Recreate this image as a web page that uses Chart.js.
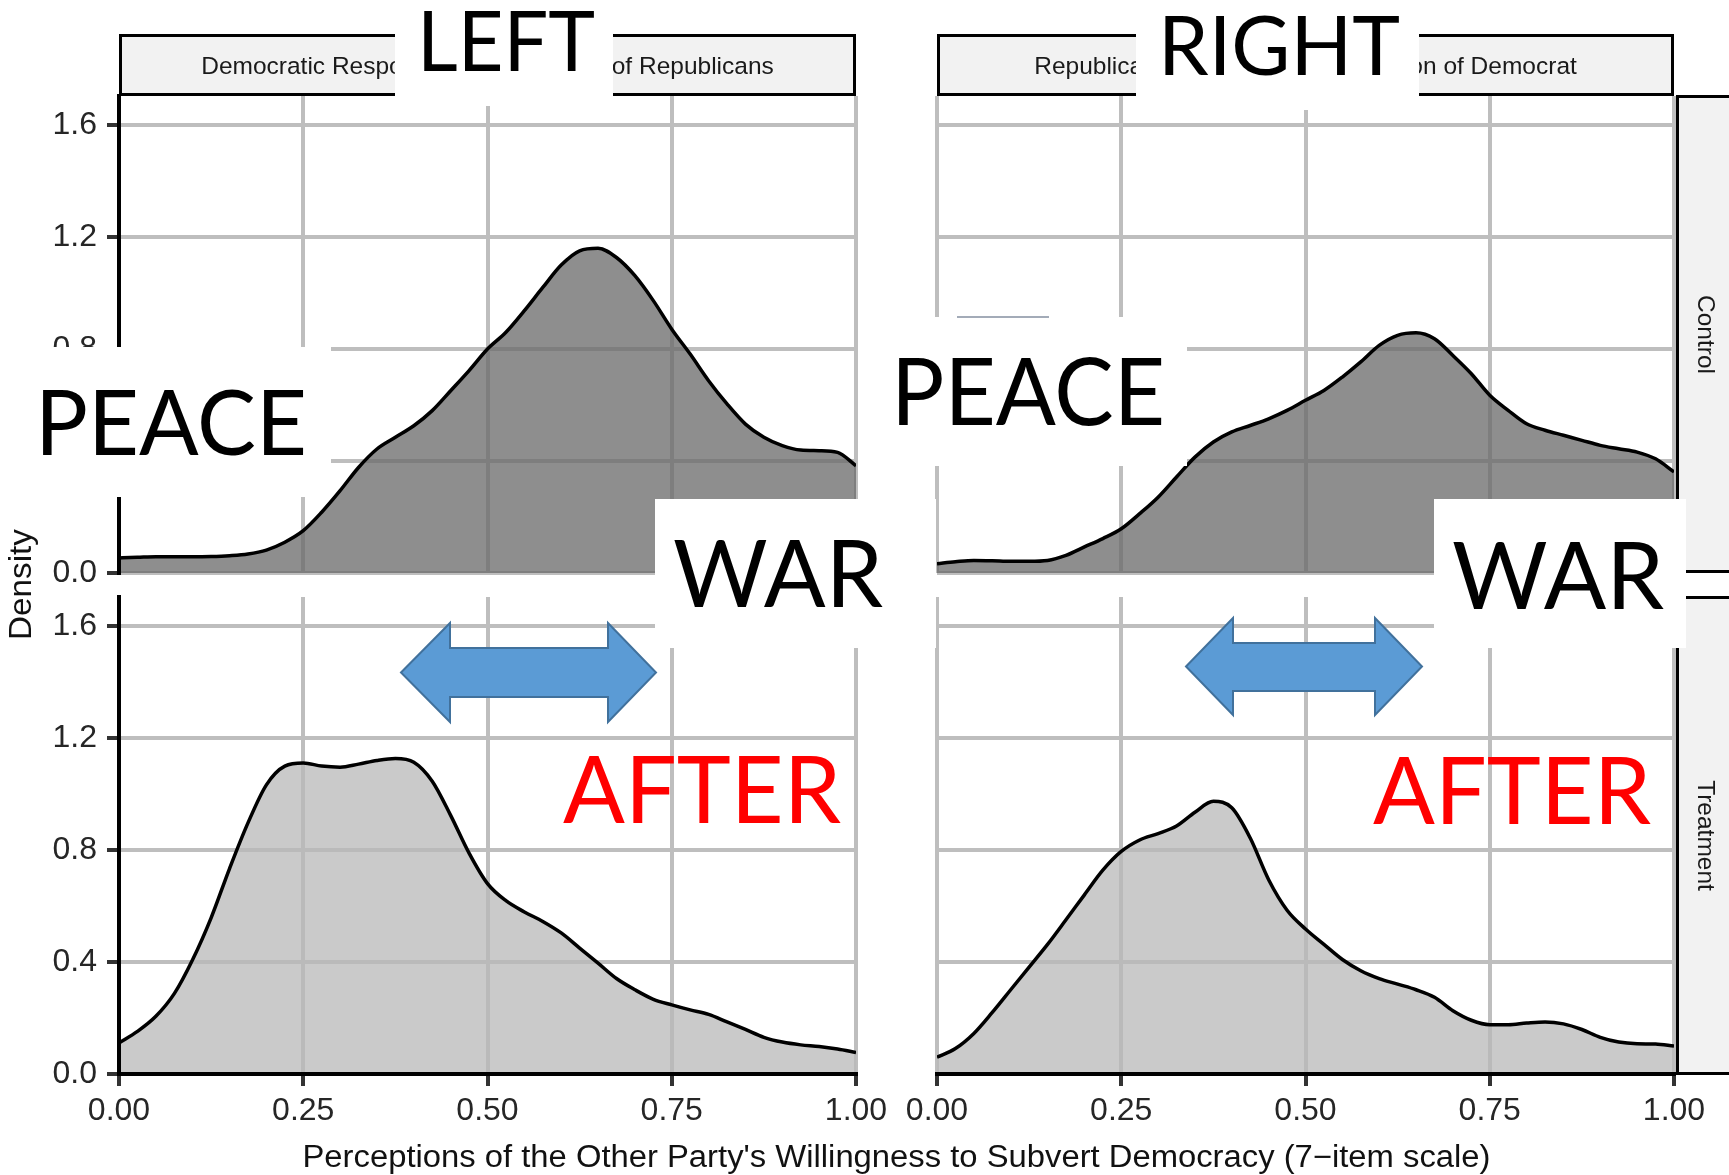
<!DOCTYPE html>
<html>
<head>
<meta charset="utf-8">
<script src="https://cdn.jsdelivr.net/npm/chart.js@4/dist/chart.umd.min.js"></script>
<style>
html,body{margin:0;padding:0;background:#fff;}
#wrap{position:relative;width:1729px;height:1175px;overflow:hidden;background:#fff;}
#wrap canvas{position:absolute;left:0;top:0;}
#ov{position:absolute;left:0;top:0;pointer-events:none;}
</style>
</head>
<body>
<div id="wrap">
<canvas id="cTL" width="1729" height="1175"></canvas>
<canvas id="cTR" width="1729" height="1175"></canvas>
<canvas id="cBL" width="1729" height="1175"></canvas>
<canvas id="cBR" width="1729" height="1175"></canvas>
<svg id="ov" width="1729" height="1175" xmlns="http://www.w3.org/2000/svg">
  <g font-family="'Liberation Sans', Arial, sans-serif">
    <rect x="120.5" y="35.5" width="734" height="59" fill="#F2F2F2" stroke="#000" stroke-width="3"/>
    <text x="487.5" y="74" font-size="24.5" fill="#1A1A1A" text-anchor="middle">Democratic Respondents' Perception of Republicans</text>
    <rect x="938.5" y="35.5" width="734" height="59" fill="#F2F2F2" stroke="#000" stroke-width="3"/>
    <text x="1305.5" y="74" font-size="24.5" fill="#1A1A1A" text-anchor="middle">Republican Respondents' Perception of Democrat</text>
    <rect x="1677.5" y="96.5" width="80" height="475" fill="#F2F2F2" stroke="#000" stroke-width="3"/>
    <text transform="translate(1706,334.5) rotate(90)" font-size="24.5" fill="#1A1A1A" text-anchor="middle" dominant-baseline="central">Control</text>
    <rect x="1677.5" y="597.5" width="80" height="476" fill="#F2F2F2" stroke="#000" stroke-width="3"/>
    <text transform="translate(1706,835.5) rotate(90)" font-size="24.5" fill="#1A1A1A" text-anchor="middle" dominant-baseline="central">Treatment</text>
    <text x="896.5" y="1167" font-size="31" fill="#111" text-anchor="middle" textLength="1188" lengthAdjust="spacingAndGlyphs">Perceptions of the Other Party's Willingness to Subvert Democracy (7−item scale)</text>
    <text transform="translate(31,584.5) rotate(-90)" font-size="31" fill="#111" text-anchor="middle" textLength="111" lengthAdjust="spacingAndGlyphs">Density</text>
  </g>
  <g fill="#fff">
    <rect x="395" y="0" width="218" height="106"/>
    <rect x="1136" y="0" width="283" height="110"/>
    <rect x="0" y="347" width="331" height="150"/>
    <rect x="862" y="317" width="325" height="149"/>
    <rect x="655" y="499" width="281" height="149"/>
    <rect x="1434" y="499" width="252" height="149"/>
  </g>
  <line x1="957" y1="317" x2="1049" y2="317" stroke="#A3ABB8" stroke-width="2"/>
  <g fill="#5B9BD5" stroke="#41719C" stroke-width="2" stroke-linejoin="miter">
    <polygon points="401,672.5 450,623 450,648 608,648 608,623 656,672.5 608,722 608,697 450,697 450,722"/>
    <polygon points="1186,666.5 1233,618 1233,643 1375,643 1375,618 1422,666.5 1375,715 1375,691 1233,691 1233,715"/>
  </g>
  <g font-family="Lato, 'Open Sans', sans-serif" fill="#000">
    <text x="417" y="71" font-size="84" textLength="178" lengthAdjust="spacingAndGlyphs">LEFT</text>
    <text x="1158" y="75" font-size="81" textLength="242" lengthAdjust="spacingAndGlyphs">RIGHT</text>
    <text x="35" y="455" font-size="91" textLength="272" lengthAdjust="spacingAndGlyphs">PEACE</text>
    <text x="891" y="425" font-size="93" textLength="274" lengthAdjust="spacingAndGlyphs">PEACE</text>
    <text x="673" y="607" font-size="93" textLength="210" lengthAdjust="spacingAndGlyphs">WAR</text>
    <text x="1452" y="609" font-size="93" textLength="212" lengthAdjust="spacingAndGlyphs">WAR</text>
    <text x="563" y="823" font-size="93" fill="#FF0000" textLength="278" lengthAdjust="spacingAndGlyphs">AFTER</text>
    <text x="1373" y="824" font-size="93" fill="#FF0000" textLength="278" lengthAdjust="spacingAndGlyphs">AFTER</text>
  </g>
</svg>
</div>
<script>
// ---- data ----
const xGrid = [0, 0.025, 0.05, 0.075, 0.1, 0.125, 0.15, 0.175, 0.2, 0.225,
  0.25, 0.275, 0.3, 0.325, 0.35, 0.375, 0.4, 0.425, 0.45, 0.475,
  0.5, 0.525, 0.55, 0.575, 0.6, 0.625, 0.65, 0.675, 0.7, 0.725,
  0.75, 0.775, 0.8, 0.825, 0.85, 0.875, 0.9, 0.925, 0.95, 0.975, 1.0];

// Democratic respondents, control
const demControl = [0.054, 0.056, 0.058, 0.058, 0.058, 0.059, 0.062, 0.068, 0.082, 0.110,
  0.151, 0.217, 0.294, 0.377, 0.443, 0.485, 0.526, 0.580, 0.651, 0.723,
  0.800, 0.860, 0.937, 1.020, 1.100, 1.151, 1.160, 1.127, 1.062, 0.973,
  0.871, 0.782, 0.687, 0.604, 0.532, 0.485, 0.455, 0.439, 0.437, 0.431, 0.383];

// Republican respondents, control
const repControl = [0.033, 0.040, 0.045, 0.044, 0.042, 0.042, 0.045, 0.063, 0.093, 0.123,
  0.158, 0.212, 0.271, 0.343, 0.414, 0.468, 0.504, 0.527, 0.551, 0.581,
  0.617, 0.652, 0.700, 0.754, 0.813, 0.849, 0.858, 0.837, 0.777, 0.712,
  0.635, 0.581, 0.533, 0.510, 0.492, 0.474, 0.456, 0.444, 0.432, 0.408, 0.361];

// Democratic respondents, treatment
const demTreatment = [0.111, 0.152, 0.206, 0.287, 0.409, 0.558, 0.734, 0.897, 1.033, 1.100,
  1.111, 1.100, 1.096, 1.107, 1.120, 1.127, 1.114, 1.046, 0.924, 0.789,
  0.680, 0.619, 0.579, 0.545, 0.504, 0.450, 0.396, 0.341, 0.301, 0.267,
  0.247, 0.229, 0.213, 0.186, 0.159, 0.131, 0.114, 0.104, 0.098, 0.089, 0.077];

// Republican respondents, treatment
const repTreatment = [0.060, 0.091, 0.145, 0.220, 0.301, 0.382, 0.463, 0.551, 0.640, 0.728,
  0.795, 0.836, 0.859, 0.886, 0.935, 0.974, 0.951, 0.843, 0.694, 0.585,
  0.518, 0.463, 0.409, 0.369, 0.341, 0.321, 0.301, 0.274, 0.226, 0.192,
  0.176, 0.176, 0.182, 0.186, 0.179, 0.159, 0.131, 0.114, 0.108, 0.107, 0.100];

const xTickValues = [0, 0.25, 0.5, 0.75, 1.0];
const yTickValues = [0, 0.4, 0.8, 1.2, 1.6];
const yMax = 1.704;

// ---- chart factory ----
const PAGE_W = 1729, PAGE_H = 1175;
const GRID = '#BEBEBE';
const TICK_FONT = { family: "'Liberation Sans', Arial, sans-serif", size: 32 };

function densityChart(id, values, cfg) {
  const yW = cfg.yLabels ? 100 : 0;
  const xH = cfg.xLabels ? 80 : 0;
  return new Chart(document.getElementById(id), {
    type: 'line',
    data: {
      datasets: [{
        data: xGrid.map((x, i) => ({ x: x, y: values[i] })),
        borderColor: '#000',
        borderWidth: 3.5,
        backgroundColor: cfg.fill,
        fill: 'origin',
        pointRadius: 0,
        cubicInterpolationMode: 'monotone'
      }]
    },
    options: {
      responsive: false,
      animation: false,
      devicePixelRatio: 1,
      events: [],
      layout: {
        padding: {
          left: cfg.area.left - yW,
          top: cfg.area.top,
          right: PAGE_W - cfg.area.right,
          bottom: PAGE_H - cfg.area.bottom - xH
        }
      },
      plugins: { legend: { display: false }, tooltip: { enabled: false }, title: { display: false } },
      scales: {
        x: {
          type: 'linear', min: 0, max: 1,
          afterBuildTicks: s => { s.ticks = xTickValues.map(v => ({ value: v })); },
          afterFit: s => { s.height = xH; },
          grid: {
            color: ctx => (cfg.yLabels && ctx.tick && ctx.tick.value === 0) ? 'rgba(0,0,0,0)' : GRID,
            lineWidth: 4,
            drawTicks: cfg.xLabels,
            tickLength: 12, tickColor: '#333', tickWidth: 4
          },
          border: { display: cfg.xLabels, color: '#000', width: 4, z: 1 },
          ticks: {
            display: cfg.xLabels, padding: 6, font: TICK_FONT, color: '#262626',
            autoSkip: false, maxRotation: 0, minRotation: 0,
            callback: v => Number(v).toFixed(2)
          }
        },
        y: {
          type: 'linear', min: 0, max: yMax,
          afterBuildTicks: s => { s.ticks = yTickValues.map(v => ({ value: v })); },
          afterFit: s => { s.width = yW; },
          grid: {
            color: ctx => (cfg.xLabels && ctx.tick && ctx.tick.value === 0) ? 'rgba(0,0,0,0)' : GRID,
            lineWidth: 4,
            drawTicks: cfg.yLabels,
            tickLength: 12, tickColor: '#333', tickWidth: 4
          },
          border: { display: cfg.yLabels, color: '#000', width: 4, z: 1 },
          ticks: {
            display: cfg.yLabels, padding: 10, font: TICK_FONT, color: '#262626',
            autoSkip: false,
            callback: v => Number(v).toFixed(1)
          }
        }
      }
    }
  });
}

const DARK_FILL = 'rgba(104,104,104,0.75)';
const LIGHT_FILL = 'rgba(184,184,184,0.75)';

densityChart('cTL', demControl,   { area: { left: 119, top: 96,  right: 856,  bottom: 573 },  yLabels: true,  xLabels: false, fill: DARK_FILL });
densityChart('cTR', repControl,   { area: { left: 937, top: 96,  right: 1674, bottom: 573 },  yLabels: false, xLabels: false, fill: DARK_FILL });
densityChart('cBL', demTreatment, { area: { left: 119, top: 597, right: 856,  bottom: 1074 }, yLabels: true,  xLabels: true,  fill: LIGHT_FILL });
densityChart('cBR', repTreatment, { area: { left: 937, top: 597, right: 1674, bottom: 1074 }, yLabels: false, xLabels: true,  fill: LIGHT_FILL });
</script>
</body>
</html>
